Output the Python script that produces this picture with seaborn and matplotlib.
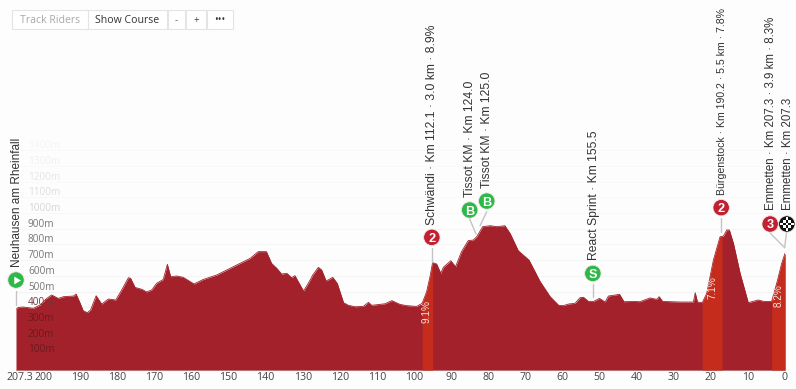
import numpy as np
import pandas as pd
import matplotlib
matplotlib.use("Agg")
import matplotlib.pyplot as plt
from matplotlib.patches import Rectangle
from matplotlib.path import Path
from matplotlib.transforms import ScaledTranslation
import seaborn as sns

km = [207.3,206.7,205.3,202.6,200.8,199.0,197.7,195.9,194.5,191.8,191.1,190.0,189.2,188.1,187.2,185.7,184.2,182.4,180.4,178.8,
      177.0,176.4,175.2,173.4,172.1,170.7,169.4,167.6,166.5,165.6,164.0,162.2,159.3,156.8,153.2,148.7,144.2,142.0,139.8,138.4,
      137.0,135.7,134.3,133.0,132.1,129.8,128.5,127.3,125.8,124.9,123.7,121.9,120.7,119.0,117.7,115.9,113.7,112.3,111.4,107.8,
      106.0,103.8,102.0,99.3,97.8,96.6,95.7,95.0,93.9,92.8,92.1,90.1,88.8,87.2,85.4,84.0,83.1,81.5,79.5,77.7,
      75.5,74.1,71.9,69.0,66.0,63.3,61.0,59.7,58.4,56.6,55.2,54.3,53.0,51.6,50.0,48.5,47.6,44.6,43.4,40.9,
      39.1,36.4,34.6,33.9,33.0,28.3,24.7,24.2,23.6,22.3,21.1,19.3,17.5,17.0,16.6,15.7,15.0,13.9,12.1,9.9,
      7.2,5.8,3.6,2.0,0.9,0.0]
elev = [386,399,401,393,414,456,478,456,467,471,484,425,378,365,382,473,420,452,446,510,
        588,584,526,514,497,510,552,577,673,594,599,590,548,577,605,658,711,754,754,679,
        648,611,616,588,601,503,552,605,654,637,567,590,552,429,412,403,405,431,412,422,
        442,418,410,405,425,499,594,684,675,616,654,696,658,754,824,828,849,913,919,913,
        919,870,760,700,563,467,412,410,420,425,461,463,437,437,456,433,471,482,435,437,
        435,459,450,467,437,433,433,492,433,429,488,700,849,851,853,892,892,807,616,429,
        446,437,437,573,679,743]

steep_start = [97.8, 22.3, 3.6]
steep_end = [95.0, 17.0, 0.0]
steep_labels = ["9.1%", "7.1%", "8.2%"]
steep_label_km = [96.6, 19.6, 1.7]
steep_label_elev = [371, 524, 473]

x_ticks = [207.3, 200, 190, 180, 170, 160, 150, 140, 130, 120, 110, 100, 90, 80, 70, 60, 50, 40, 30, 20, 10, 0]
x_tick_labels = ["207.3", "200", "190", "180", "170", "160", "150", "140", "130", "120", "110", "100",
                 "90", "80", "70", "60", "50", "40", "30", "20", "10", "0"]
grid_levels = [100, 200, 300, 400, 500, 600, 700, 800, 900, 1000, 1100, 1200, 1300, 1400]
grid_label_colors = ["#6a1a20", "#6a1a20", "#6a1a20", "#6e3a3e", "#777777", "#777777", "#777777", "#777777", "#777777",
                     "#d6d6d6", "#dedede", "#e6e6e6", "#f0f0f0", "#f5f5f5"]

marker_km = [207.3, 95.2, 85.0, 80.4, 51.8, 17.2, 4.0, -0.5]
marker_elev = [573, 845, 1019, 1076, 615, 1034, 930, 930]
marker_text = ["", "2", "B", "B", "S", "2", "3", ""]
marker_color = ["#2db84a", "#c0202f", "#2db84a", "#2db84a", "#2db84a", "#c0202f", "#c0202f", "#111111"]
stem_top_km = [207.3, 95.2, 85.0, 80.4, 51.8, 17.2, 4.0, -0.4]
stem_top_elev = [503, 777, 962, 1008, 548, 968, 872, 872]
stem_end_km = [207.3, 95.2, 83.3, 82.2, 51.8, 17.2, 0.1, 0.1]
stem_end_elev = [414, 688, 866, 919, 465, 879, 779, 779]

note_text = ["Neuhausen am Rheinfall", "Schwändi · Km 112.1 · 3.0 km · 8.9%", "Tissot KM · Km 124.0", "Tissot KM · Km 125.0",
             "React Sprint · Km 155.5", "Bürgenstock · Km 190.2 · 5.5 km · 7.8%", "Emmetten · Km 207.3 · 3.9 km · 8.3%",
             "Emmetten · Km 207.3"]
note_km = [207.1, 95.2, 85.0, 80.4, 51.5, 16.9, 3.8, -0.7]
note_elev = [656, 924, 1102, 1159, 701, 1115, 1019, 1019]
note_size = [8.5, 8.7, 8.7, 8.7, 8.7, 7.6, 8.3, 8.3]

buttons = ["Track Riders", "Show Course", "-", "+", "•••"]
button_left = [12, 88, 168, 186, 207]
button_right = [88, 167, 185, 206, 233]
button_color = ["#a8a8a8", "#333333", "#666666", "#444444", "#333333"]

W, H = 796, 389
sns.set_theme(style="white")
plt.rcParams["font.family"] = ["Open Sans", "DejaVu Sans"]
BG = "#fdfdfd"
DARK = "#a3212b"
BRIGHT = "#c52c1c"

fig = plt.figure(figsize=(W / 100, H / 100), dpi=100, facecolor=BG)
ax = fig.add_axes([16 / W, (H - 370) / H, (785 - 16) / W, 370 / H], facecolor=BG)

df = pd.DataFrame({"km": km, "elev": elev})
for i, level in enumerate(grid_levels):
    ax.axhline(level, color="#000000", lw=0.8, alpha=max(0.015, 0.05 - 0.003 * i), zorder=1)

sns.lineplot(data=df, x="km", y="elev", color=DARK, lw=0.6, ax=ax, zorder=3, estimator=None, sort=False)
ax.fill_between(df["km"], 0, df["elev"], color=DARK, lw=0, zorder=3)
for a, b in zip(steep_start, steep_end):
    part = df[(df["km"] <= a) & (df["km"] >= b)]
    ax.fill_between(part["km"], 0, part["elev"], color=BRIGHT, lw=0, zorder=4)
for t, k, e in zip(steep_labels, steep_label_km, steep_label_elev):
    ax.text(k, e, t, rotation=90, ha="center", va="center", color="#f4e4e0", fontsize=7.2, zorder=6,
            family=["Liberation Sans"])

ax.set_xlim(207.3, 0)
ax.set_ylim(0, 370 / 0.157)
ax.set_xticks(x_ticks)
ax.set_xticklabels(x_tick_labels, fontsize=7.6, color="#444444")
ax.set_yticks([])
ax.set_xlabel("")
ax.set_ylabel("")
ax.tick_params(axis="x", length=0, pad=1.2)
ax.xaxis.get_ticklabels()[0].set_transform(
    ax.xaxis.get_ticklabels()[0].get_transform() + ScaledTranslation(4 / 72 * 0.72, 0, fig.dpi_scale_trans))
for s in ["top", "left", "right"]:
    ax.spines[s].set_visible(False)
ax.spines["bottom"].set_color("#d9c4c6")
ax.spines["bottom"].set_linewidth(0.8)

for level, c in zip(grid_levels, grid_label_colors):
    ax.annotate(f"{level}m", xy=(0, level), xycoords=("axes fraction", "data"), xytext=(8.6, 3.2), textcoords="offset points",
                ha="left", va="center", fontsize=7.2, color=c, zorder=5)

for a, b, c, d in zip(stem_top_km, stem_top_elev, stem_end_km, stem_end_elev):
    ax.plot([a, c], [b, d], color="#c4c4c4", lw=1.0, zorder=6, clip_on=False)

ax.scatter(marker_km, marker_elev, s=140, c=marker_color, edgecolors="#f4e6e6", linewidths=0.6, zorder=7, clip_on=False)
for k, e, t in zip(marker_km, marker_elev, marker_text):
    if t:
        ax.text(k, e, t, ha="center", va="center_baseline", color="white", fontsize=9.2, fontweight="bold", zorder=8,
                family=["Liberation Sans"])
ax.scatter([marker_km[0]], [marker_elev[0]], marker=(3, 0, -90), s=42, color="white", lw=0, zorder=8, clip_on=False)

squares = []
codes = []
for ix in range(-2, 3):
    for iy in range(-2, 3):
        if (ix + iy) % 2 == 0 and abs(ix) + abs(iy) < 4:
            x0, y0 = ix * 0.4 - 0.2, iy * 0.4 - 0.2
            squares += [(x0, y0), (x0 + 0.4, y0), (x0 + 0.4, y0 + 0.4), (x0, y0 + 0.4), (x0, y0)]
            codes += [Path.MOVETO, Path.LINETO, Path.LINETO, Path.LINETO, Path.CLOSEPOLY]
ax.scatter([marker_km[-1]], [marker_elev[-1]], marker=Path(squares, codes), s=100, color="white", lw=0, zorder=8, clip_on=False)

for t, k, e, fs in zip(note_text, note_km, note_elev, note_size):
    ax.text(k, e, t, rotation=90, ha="center", va="bottom", color="#333333", fontsize=fs, zorder=8, clip_on=False,
            family=["Liberation Sans"])

for t, l, r, c in zip(buttons, button_left, button_right, button_color):
    fig.add_artist(Rectangle((l / W, 1 - 29 / H), (r - l) / W, 19 / H, transform=fig.transFigure,
                             facecolor="white", edgecolor="#e4e4e4", lw=0.8))
    fig.text((l + r) / 2 / W, 1 - 20.5 / H, t, ha="center", va="center", fontsize=7.6 if len(t) > 3 else 7, color=c)

fig.savefig("out.png", dpi=100, facecolor=BG)
